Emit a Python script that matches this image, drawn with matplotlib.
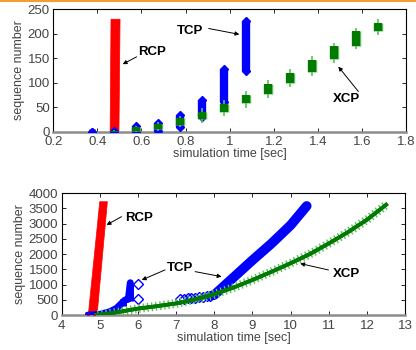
import numpy as np
import matplotlib.pyplot as plt
import matplotlib.patheffects as pe
from matplotlib.lines import Line2D

# ---- top panel: start-up (first 1.8 s) ----
rcp_top_x = [0.458, 0.462, 0.503, 0.498]
rcp_top_y = [0, 230, 230, 0]

tcp_top_t = [0.375, 0.475, 0.575, 0.675, 0.775, 0.875, 0.975, 1.075]
tcp_top_lo = [0, 0, 0, 2, 9, 29, 61, 124]
tcp_top_hi = [0, 2, 11, 17, 33, 64, 128, 226]

xcp_top_t = [0.375, 0.475, 0.575, 0.675, 0.775, 0.875, 0.975, 1.075,
             1.175, 1.275, 1.375, 1.475, 1.575, 1.675]
xcp_body_lo = [0, 0, 1, 5, 14, 25, 41, 58, 76, 99, 123, 148, 176, 205]
xcp_body_hi = [0, 2, 9, 16, 27, 41, 57, 75, 97, 120, 146, 176, 206, 222]
xcp_wh_lo = [0, 0, 0, 1, 9, 18, 32, 49, 68, 91, 114, 141, 169, 197]
xcp_wh_hi = [0, 3, 12, 20, 32, 48, 65, 84, 106, 129, 155, 182, 213, 231]

# ---- bottom panel: whole transfer ----
rcp_bot_x = [4.70, 5.00, 5.20, 4.93]
rcp_bot_y = [0, 3720, 3720, 0]

tcp_bot_t = [4.70, 5.00, 5.27, 5.44, 5.57, 5.66, 5.75, 5.80]
tcp_bot_s = [0, 20, 110, 220, 380, 490, 520, 1060]
tcp_col_t = [5.60, 5.78]
tcp_col_lo = [300, 450]
tcp_col_hi = [520, 1060]
tcp_open_t = [6.01, 6.01, 7.10, 7.20, 7.30, 7.40, 7.50, 7.60, 7.70, 7.80, 7.90]
tcp_open_s = [1020, 516, 530, 540, 545, 555, 565, 580, 600, 610, 630]
tcp_run_t = [7.95, 8.0, 8.5, 9.0, 9.5, 10.0, 10.42]
tcp_run_s = [640, 660, 1230, 1800, 2350, 2950, 3580]

xcp_bot_t = [4.90, 5.20, 5.50, 6.00, 6.50, 7.00, 7.50, 8.00, 8.50, 9.00,
             9.50, 10.00, 10.50, 11.00, 11.50, 12.00, 12.50]
xcp_bot_s = [0, 40, 100, 210, 290, 380, 510, 680, 900, 1150, 1420, 1700,
             2000, 2350, 2720, 3130, 3620]

RED = "#ff0000"
BLUE = "#0000ff"
GREEN = "#007a00"
LGREEN = "#5cc05c"
GREY = "#444444"

plt.rcParams["font.family"] = ["Liberation Sans", "DejaVu Sans"]

fig = plt.figure(figsize=(4.16, 3.5), dpi=100)
ax1 = fig.add_axes([0.128, 0.624, 0.848, 0.349])
ax2 = fig.add_axes([0.148, 0.100, 0.826, 0.348])

# orange rule at the top of the slide
fig.add_artist(Line2D([0, 1], [0.996, 0.996], color="#f0a030", lw=1.5))


def style(ax):
    ax.tick_params(direction="in", length=3, width=0.6, top=True, right=True,
                   labelsize=9.5, labelcolor=GREY, pad=2.5)
    ax.tick_params(axis="x", pad=3.5)
    for s in ["left", "top", "right"]:
        ax.spines[s].set_linewidth(0.8)
    ax.spines["bottom"].set_color("#8c8c8c")
    ax.spines["bottom"].set_linewidth(1.8)
    ax.set_ylabel("sequence number", fontsize=9, color=GREY, labelpad=2)
    ax.set_xlabel("simulation time [sec]", fontsize=9, color=GREY, labelpad=0)


def label(ax, txt, xy, xytext, tx, ty):
    ax.text(tx, ty, txt, fontsize=9.5, fontweight="bold", ha="left", va="center")
    ax.annotate("", xy=xy, xytext=xytext,
                arrowprops=dict(arrowstyle="-|>", lw=0.7, color="k",
                                mutation_scale=6, shrinkA=0, shrinkB=0))


# top panel
ax1.fill(rcp_top_x, rcp_top_y, color=RED, lw=0.5, zorder=3)
ax1.plot([0.375, 0.475], [0, 0], "x", color=RED, ms=5, mew=1, zorder=3)

ax1.vlines(tcp_top_t, tcp_top_lo, tcp_top_hi, color=BLUE, lw=6, zorder=4)
ax1.plot(tcp_top_t, tcp_top_lo, "D", color=BLUE, ms=4.5, zorder=4)
ax1.plot(tcp_top_t, tcp_top_hi, "D", color=BLUE, ms=4.5, zorder=4)

ax1.vlines(xcp_top_t, xcp_wh_lo, xcp_wh_hi, color=LGREEN, lw=1.2, zorder=5)
ax1.vlines(xcp_top_t, xcp_body_lo, xcp_body_hi, color=GREEN, lw=5.8, zorder=5,
           path_effects=[pe.Stroke(linewidth=6.8, foreground=LGREEN), pe.Normal()])

ax1.set_xlim(0.2, 1.8)
ax1.set_ylim(0, 250)
ax1.set_xticks(np.arange(0.2, 1.81, 0.2))
ax1.set_xticklabels(["0.2", "0.4", "0.6", "0.8", "1", "1.2", "1.4", "1.6", "1.8"])
ax1.set_yticks(range(0, 251, 50))
style(ax1)

label(ax1, "RCP", (0.515, 138), (0.578, 153), 0.585, 163)
label(ax1, "TCP", (1.044, 199), (0.905, 211), 0.76, 206)
label(ax1, "XCP", (1.493, 133), (1.584, 82), 1.47, 66)

# bottom panel
ax2.fill(rcp_bot_x, rcp_bot_y, color=RED, lw=0.5, zorder=3)

ax2.plot(xcp_bot_t, xcp_bot_s, color=GREEN, lw=2.6, zorder=5,
         path_effects=[pe.withTickedStroke(angle=90, spacing=3, length=0.9,
                                           foreground=LGREEN, linewidth=1.0),
                       pe.withTickedStroke(angle=-90, spacing=3, length=0.9,
                                           foreground=LGREEN, linewidth=1.0),
                       pe.Normal()])

ax2.plot(tcp_bot_t, tcp_bot_s, color=BLUE, lw=5, solid_capstyle="round", zorder=4)
ax2.vlines(tcp_col_t, tcp_col_lo, tcp_col_hi, color=BLUE, lw=5, zorder=4)
ax2.plot(tcp_open_t, tcp_open_s, "D", mfc="none", mec=BLUE, ms=5, mew=1, zorder=4)
ax2.plot(tcp_run_t, tcp_run_s, color=BLUE, lw=7, solid_capstyle="round", zorder=4)
ax2.plot([4.70, 4.85], [0, 0], "x", color=RED, ms=5, mew=1, zorder=3)

ax2.set_xlim(4, 13)
ax2.set_ylim(0, 4000)
ax2.set_xticks(range(4, 14))
ax2.set_yticks(range(0, 4001, 500))
style(ax2)

label(ax2, "RCP", (5.18, 2958), (5.57, 3230), 5.66, 3180)
label(ax2, "TCP", (6.10, 1150), (6.71, 1480), 6.75, 1534)
ax2.annotate("", xy=(8.19, 1259), xytext=(7.5, 1424),
             arrowprops=dict(arrowstyle="-|>", lw=0.7, color="k",
                             mutation_scale=6, shrinkA=0, shrinkB=0))
label(ax2, "XCP", (10.25, 1690), (10.99, 1479), 11.1, 1348)

fig.savefig("out.png", dpi=100)
